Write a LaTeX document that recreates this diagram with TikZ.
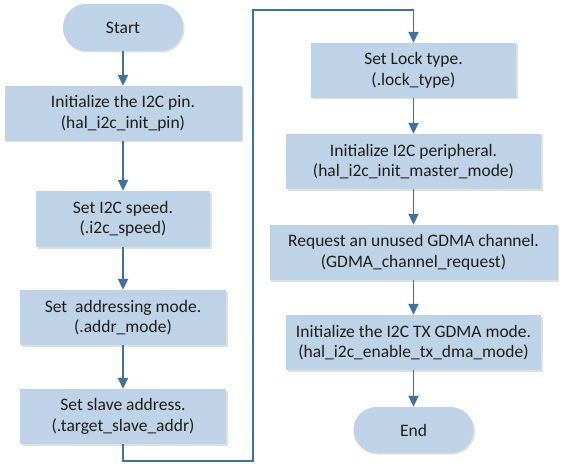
\documentclass[tikz,border=0pt]{standalone}
\usepackage{fontspec}
\setmainfont{Carlito}
\usetikzlibrary{arrows.meta,shadows}
\definecolor{boxfill}{RGB}{190,211,232}
\definecolor{linecol}{RGB}{65,113,156}
\definecolor{txtcol}{RGB}{30,28,24}
\begin{document}
\begin{tikzpicture}[x=1pt,y=1pt,
  base/.style={fill=boxfill,draw=none,align=center,text=txtcol,inner sep=0pt,
    font=\fontsize{17.5}{20.5}\selectfont,
    drop shadow={shadow xshift=1.5pt,shadow yshift=-1.5pt,opacity=0.12,fill=black}},
  procbox/.style={base,minimum height=55pt},
  term/.style={base,rounded corners=23pt,minimum height=47pt,minimum width=120pt},
  conn/.style={draw=linecol,line width=1.8pt,-{Triangle[width=10pt,length=11pt]}}]
\useasboundingbox (0,0) rectangle (569,-473);
\fill[white] (0,0) rectangle (569,-473);
% left column
\node[term] (start) at (123,-27.5) {Start};
\node[procbox,minimum width=237pt] (b1) at (123,-113.5) {Initialize the I2C pin.\\(hal\_i2c\_init\_pin)};
\node[procbox,minimum width=174pt,minimum height=56pt] (b2) at (123,-219) {Set I2C speed.\\(.i2c\_speed)};
\node[procbox,minimum width=206pt] (b3) at (123,-317.5) {Set\ \ addressing mode.\\(.addr\_mode)};
\node[procbox,minimum width=206pt] (b4) at (123,-416.5) {Set slave address.\\(.target\_slave\_addr)};
% right column
\node[procbox,minimum width=205pt] (b5) at (413.5,-70.5) {Set Lock type.\\(.lock\_type)};
\node[procbox,minimum width=255pt] (b6) at (413.5,-161.5) {Initialize I2C peripheral.\\(hal\_i2c\_init\_master\_mode)};
\node[procbox,minimum width=288pt] (b7) at (413.5,-252.5) {Request an unused GDMA channel.\\(GDMA\_channel\_request)};
\node[procbox,minimum width=255pt] (b8) at (413.5,-342.5) {Initialize the I2C TX GDMA mode.\\(hal\_i2c\_enable\_tx\_dma\_mode)};
\node[term,minimum height=46pt] (end) at (413.5,-430) {End};
% connectors
\draw[conn] (start) -- (b1);
\draw[conn] (b1) -- (b2);
\draw[conn] (b2) -- (b3);
\draw[conn] (b3) -- (b4);
\coordinate (r1) at (253,-461.3);
\coordinate (r2) at (253,-10);
\draw[conn] (b4.south) |- (r1) -- (r2) -| (b5.north);
\draw[conn] (b5) -- (b6);
\draw[conn] (b6) -- (b7);
\draw[conn] (b7) -- (b8);
\draw[conn] (b8) -- (end);
\end{tikzpicture}
\end{document}
